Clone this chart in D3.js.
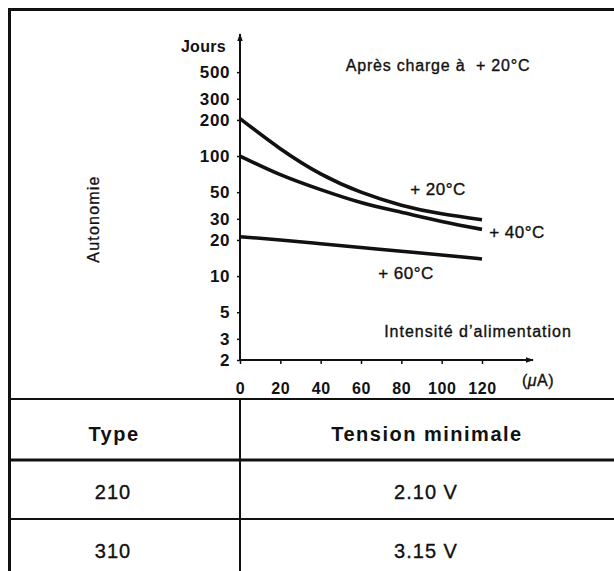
<!DOCTYPE html>
<html>
<head>
<meta charset="utf-8">
<script src="https://cdn.jsdelivr.net/npm/d3@7"></script>
<style>
  body { margin: 0; background: #fff; }
  svg { display: block; font-family: "Liberation Sans", Arial, Helvetica, sans-serif; }
</style>
</head>
<body>
<svg></svg>
<script>
// intensité d'alimentation (µA)
var current = [0, 20, 40, 60, 80, 100, 120];
// autonomie (jours) per temperature
var t20 = [205, 115, 71, 50, 39, 33, 29.5];
var t40 = [100, 70, 52.5, 41, 34, 28.5, 24.5];
var t60 = [21.3, 20, 18.6, 17.3, 16.1, 15, 13.9];
var seriesLabels = ["+ 20°C", "+ 40°C", "+ 60°C"];

var yTicks = [2, 3, 5, 10, 20, 30, 50, 100, 200, 300, 500];
var xTicks = [0, 20, 40, 60, 80, 100, 120];

var tableHeader = ["Type", "Tension minimale"];
var types = ["210", "310"];
var tensions = ["2.10 V", "3.15 V"];

var width = 614;
var height = 571;

var svg = d3.select("svg")
            .attr("width", width)
            .attr("height", height);

var xScale = d3.scaleLinear()
               .domain([0, 120])
               .range([240, 482]);

// log scale, ~120px per decade
var yScale = d3.scaleLog()
               .domain([2, 1000])
               .range([360, 36]);

// arrow heads
svg.append("defs").append("marker")
    .attr("id", "arrow")
    .attr("viewBox", "0 0 10 10")
    .attr("refX", 9).attr("refY", 5)
    .attr("markerWidth", 4).attr("markerHeight", 4)
    .attr("markerUnits", "strokeWidth")
    .attr("orient", "auto")
  .append("path")
    .attr("d", "M0,1.5 L10,5 L0,8.5 Z")
    .attr("fill", "#111");

// outer frame
svg.append("line").attr("x1", 8).attr("x2", width).attr("y1", 9.5).attr("y2", 9.5)
   .attr("stroke", "#111").attr("stroke-width", 3);
svg.append("line").attr("x1", 9.5).attr("x2", 9.5).attr("y1", 8).attr("y2", height)
   .attr("stroke", "#111").attr("stroke-width", 3);

// y axis
var yAxis = svg.append("g")
    .attr("transform", "translate(" + xScale(0) + ",0)")
    .call(d3.axisLeft(yScale)
        .tickValues(yTicks)
        .tickSize(3)
        .tickPadding(7)
        .tickFormat(d3.format("d")));
yAxis.select(".domain").remove();
yAxis.selectAll(".tick text").style("font-size", "17px");

// x axis
var xAxis = svg.append("g")
    .attr("transform", "translate(0," + yScale(2) + ")")
    .call(d3.axisBottom(xScale)
        .tickValues(xTicks)
        .tickSize(4)
        .tickPadding(19));
xAxis.select(".domain").remove();
xAxis.selectAll(".tick text").style("font-size", "16px");

svg.selectAll(".tick line").attr("stroke", "#111").attr("stroke-width", 1.5);
svg.selectAll(".tick text")
   .attr("fill", "#111")
   .style("font-weight", "bold")
   .style("font-family", "'Liberation Sans', Arial, sans-serif")
   .style("letter-spacing", "0.6px");

// axis lines with arrows
svg.append("line")
   .attr("x1", xScale(0)).attr("x2", xScale(0))
   .attr("y1", yScale(2) + 1).attr("y2", 34)
   .attr("stroke", "#111").attr("stroke-width", 2)
   .attr("marker-end", "url(#arrow)");
svg.append("line")
   .attr("x1", xScale(0) - 1).attr("x2", 533)
   .attr("y1", yScale(2)).attr("y2", yScale(2))
   .attr("stroke", "#111").attr("stroke-width", 2)
   .attr("marker-end", "url(#arrow)");

// curves
var line = d3.line()
    .x(d => xScale(d[0]))
    .y(d => yScale(d[1]))
    .curve(d3.curveNatural);

[t20, t40, t60].forEach(function(s) {
    svg.append("path")
       .datum(current.map((c, i) => [c, s[i]]))
       .attr("d", line)
       .attr("fill", "none")
       .attr("stroke", "#111")
       .attr("stroke-width", 3.6);
});

// texts
function label(x, y, txt, size, weight, anchor, spacing) {
    return svg.append("text")
        .attr("x", x).attr("y", y)
        .attr("dy", "0.35em")
        .attr("text-anchor", anchor || "middle")
        .attr("fill", "#111")
        .attr("stroke", weight == "bold" ? "none" : "#111")
        .attr("stroke-width", 0.35)
        .style("font-size", size + "px")
        .style("font-weight", weight || "normal")
        .style("letter-spacing", (spacing || 0) + "px")
        .text(txt);
}

label(226, 46, "Jours", 16, "bold", "end", 0.3);
label(438, 65, "Après charge à  + 20°C", 16, "normal", "middle", 0.8)
    .style("white-space", "pre");
label(438, 189, seriesLabels[0], 17, "normal", "middle", 0.5);
label(517, 232, seriesLabels[1], 17, "normal", "middle", 0.5);
label(406, 273, seriesLabels[2], 17, "normal", "middle", 0.5);
label(478, 331, "Intensité d’alimentation", 16, "normal", "middle", 1);
label(538, 380, "(\u03bcA)", 16, "normal", "middle", 0.5)
    .html("(<tspan font-style='italic'>\u03bc</tspan>A)");

svg.append("text")
   .attr("transform", "translate(93,219) rotate(-90)")
   .attr("dy", "0.35em")
   .attr("text-anchor", "middle")
   .attr("fill", "#111")
   .attr("stroke", "#111")
   .attr("stroke-width", 0.3)
   .style("font-size", "16px")
   .style("letter-spacing", "1.2px")
   .text("Autonomie");

// table
svg.append("line").attr("x1", 8).attr("x2", width).attr("y1", 399).attr("y2", 399)
   .attr("stroke", "#111").attr("stroke-width", 2);
svg.append("line").attr("x1", 8).attr("x2", width).attr("y1", 460).attr("y2", 460)
   .attr("stroke", "#111").attr("stroke-width", 3);
svg.append("line").attr("x1", 8).attr("x2", width).attr("y1", 519).attr("y2", 519)
   .attr("stroke", "#111").attr("stroke-width", 2);
svg.append("line").attr("x1", 240).attr("x2", 240).attr("y1", 399).attr("y2", height)
   .attr("stroke", "#111").attr("stroke-width", 2);

label(114, 434, tableHeader[0], 20, "bold", "middle", 1.5);
label(427, 434, tableHeader[1], 20, "bold", "middle", 1.5);

var rowY = [492, 551];
types.forEach(function(t, i) {
    label(113, rowY[i], t, 20, "normal", "middle", 1);
    label(426, rowY[i], tensions[i], 20, "normal", "middle", 1);
});
</script>
</body>
</html>
